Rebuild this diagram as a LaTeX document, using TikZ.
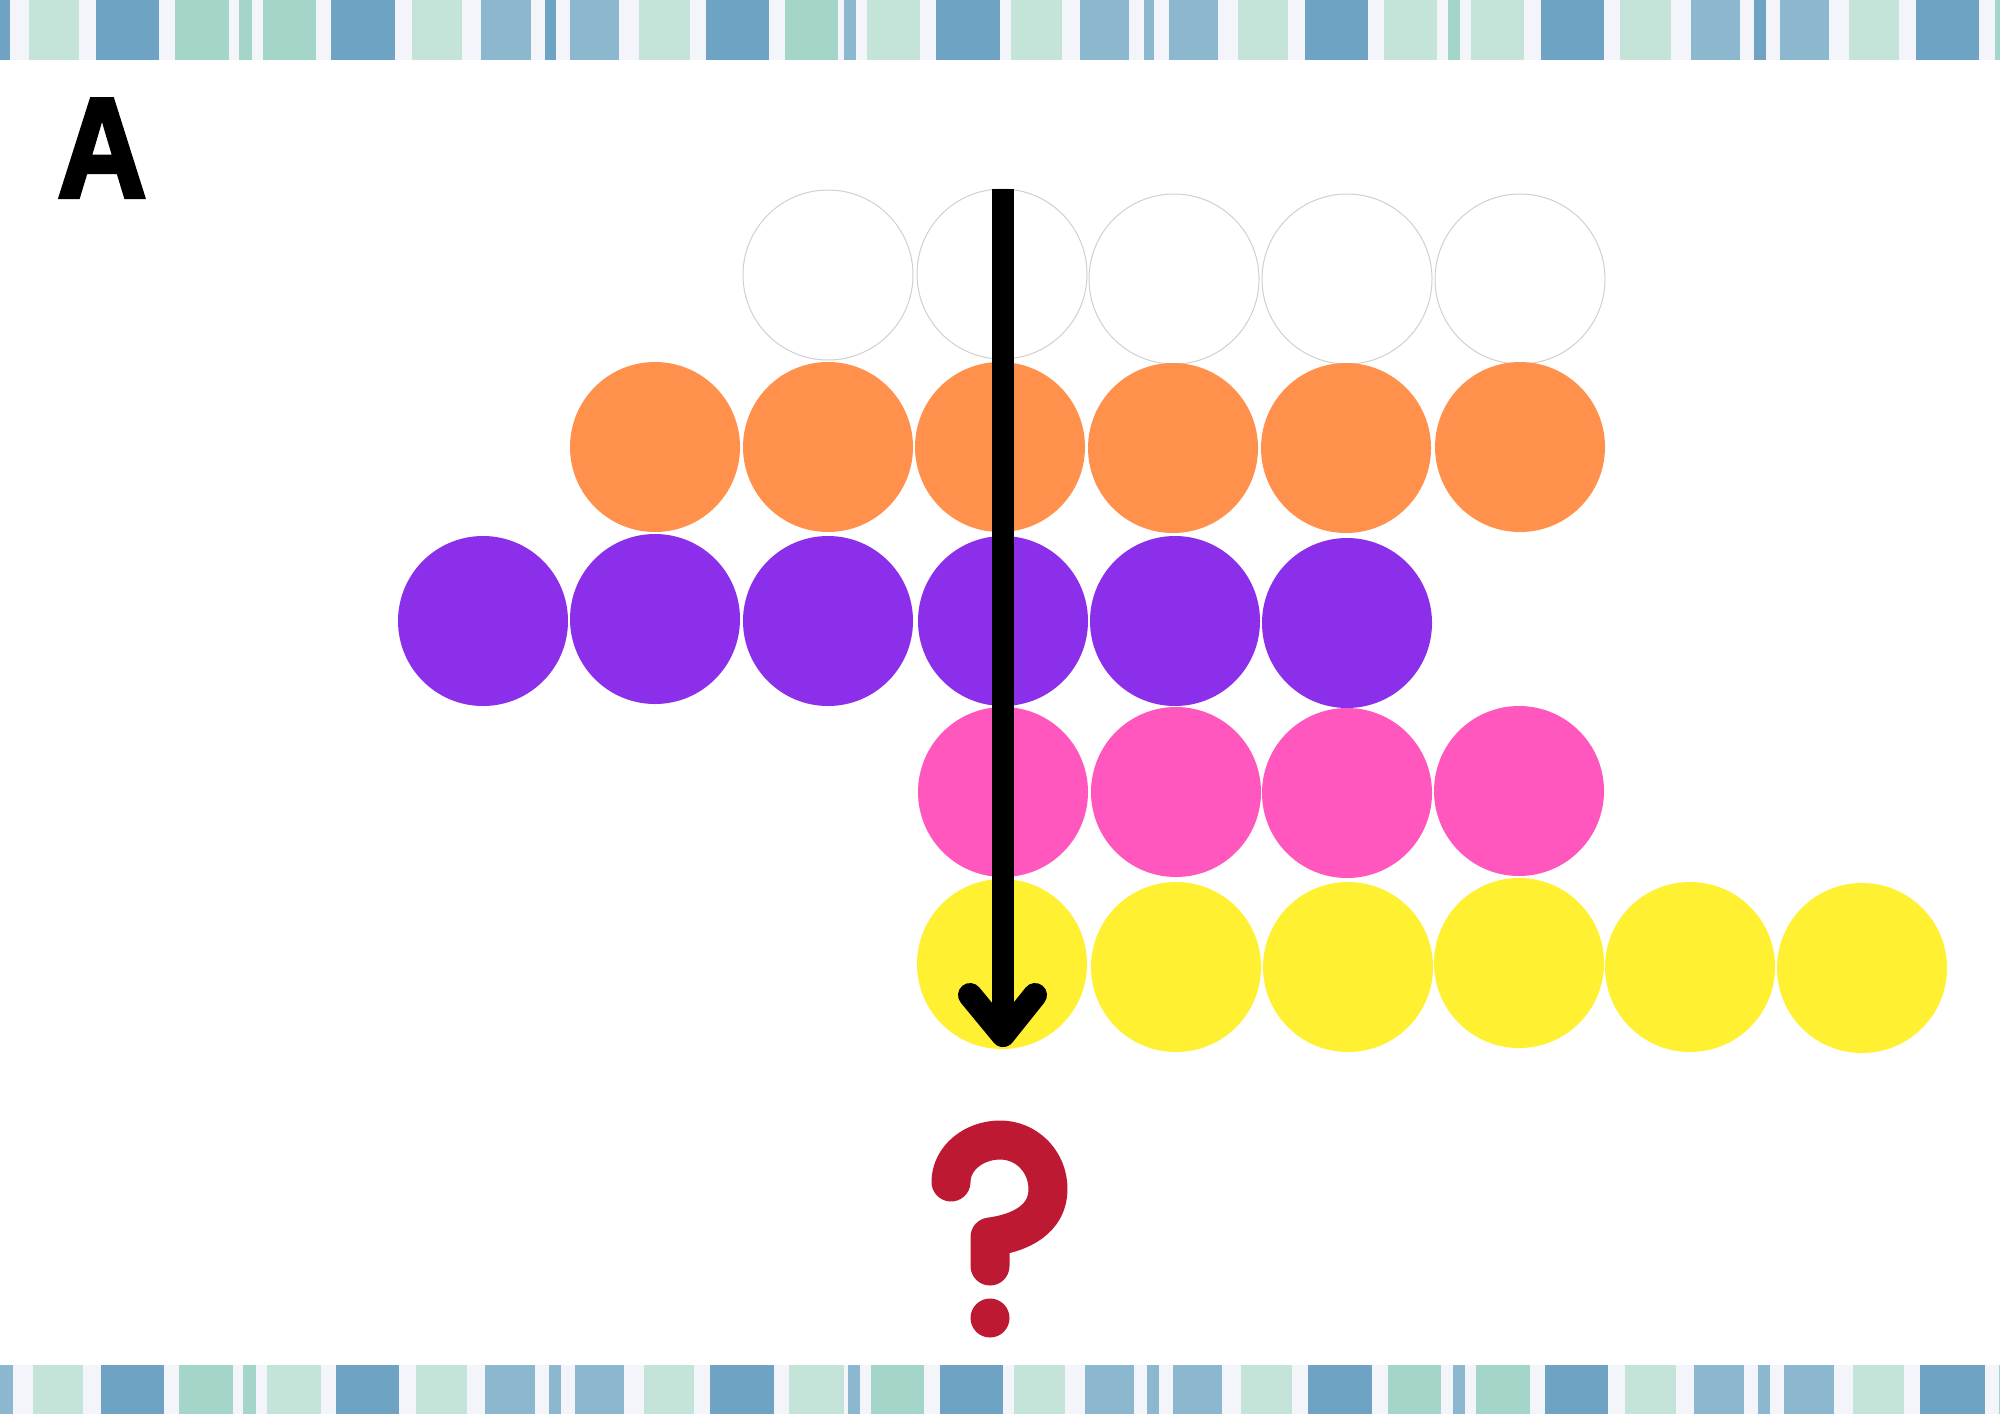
\documentclass[tikz,border=0pt]{standalone}
\usepackage{fontspec}
\usepackage{graphicx}
\font\labelfontbold="Liberation Sans/B:embolden=3" at 71pt
\definecolor{db}{RGB}{111,163,195}
\definecolor{bl}{RGB}{139,184,207}
\definecolor{lg}{RGB}{196,227,217}
\definecolor{gr}{RGB}{163,214,200}
\definecolor{bandbg}{RGB}{244,245,250}
\definecolor{corange}{RGB}{255,145,77}
\definecolor{cpurple}{RGB}{140,47,234}
\definecolor{cpink}{RGB}{255,87,189}
\definecolor{cyellow}{RGB}{255,240,49}
\definecolor{qred}{RGB}{190,25,50}
\definecolor{ringgrey}{RGB}{208,208,208}
\tikzset{
  ball/.style={circle, inner sep=0pt, minimum size=85pt, draw=none},
  emptyball/.style={ball, draw=ringgrey, line width=0.5pt, fill=white},
  shaft/.style={line width=11pt, line cap=butt},
  headline/.style={line width=12pt, line cap=round, line join=round},
  qstroke/.style={qred, line width=19.5pt, line cap=round, line join=round},
}
\begin{document}
\begin{tikzpicture}[x=0.5pt,y=-0.5pt]
\fill[white] (0,0) rectangle (2000,1414);
\useasboundingbox (0,0) rectangle (2000,1414);
% top band
\fill[bandbg] (0,0) rectangle (2000,60);
\foreach \a/\b/\c in {0/10/db,29/79/lg,96/159/db,175/229/gr,239/252/gr,263/316/gr,331/395/db,412/462/lg,481/531/bl,545/556/db,570/619/bl,639/690/lg,706/769/db,785/838/gr,844/856/bl,867/920/lg,936/1000/db,1011/1062/lg,1080/1129/bl,1144/1154/bl,1169/1218/bl,1238/1288/lg,1305/1368/db,1384/1437/lg,1448/1460/gr,1471/1524/lg,1541/1604/db,1620/1671/lg,1691/1740/bl,1754/1766/db,1780/1829/bl,1849/1899/lg,1916/1979/db,1995/2000/gr}
  \fill[\c] (\a,0) rectangle (\b,60);
% bottom band
\fill[bandbg] (0,1365) rectangle (2000,1414);
\foreach \a/\b/\c in {0/13/bl,33/83/lg,101/164/db,179/233/gr,243/256/gr,267/321/lg,336/399/db,416/467/lg,485/535/bl,549/561/bl,575/624/bl,644/694/lg,710/774/db,789/844/lg,848/860/bl,871/924/gr,940/1003/db,1014/1065/lg,1085/1134/bl,1147/1159/bl,1173/1222/bl,1241/1292/lg,1308/1372/db,1388/1441/gr,1453/1465/bl,1476/1530/gr,1545/1608/db,1625/1676/lg,1694/1744/bl,1758/1770/bl,1784/1834/bl,1853/1904/lg,1920/1985/db,1999/2000/gr}
  \fill[\c] (\a,1365) rectangle (\b,1414);
% label
\node[anchor=base west, inner sep=0pt] (lbl) at (57,197) {\scalebox{0.87}[1]{\labelfontbold A}};
% white row
\foreach \i/\x/\y in {1/828/275,2/1002/274,3/1174/279,4/1347/279,5/1520/279}
  \node[emptyball] (w\i) at (\x,\y) {};
% orange row
\foreach \i/\x/\y in {1/655/447,2/828/447,3/1000/447,4/1173/448,5/1346/448,6/1520/447}
  \node[ball, fill=corange] (o\i) at (\x,\y) {};
% purple row
\foreach \i/\x/\y in {1/483/621,2/655/619,3/828/621,4/1003/621,5/1175/621,6/1347/623}
  \node[ball, fill=cpurple] (p\i) at (\x,\y) {};
% pink row
\foreach \i/\x/\y in {1/1003/792,2/1176/792,3/1347/793,4/1519/791}
  \node[ball, fill=cpink] (k\i) at (\x,\y) {};
% yellow row
\foreach \i/\x/\y in {1/1002/964,2/1176/967,3/1348/967,4/1519/963,5/1690/967,6/1862/968}
  \node[ball, fill=cyellow] (y\i) at (\x,\y) {};
% arrow
\coordinate (atop) at (1003,189);
\coordinate (atip) at (1003,1035);
\coordinate (aleft) at (970,995);
\coordinate (aright) at (1035,995);
\draw[shaft] (atop) -- (atip);
\draw[headline] (aleft) -- (atip) -- (aright);
% question mark
\coordinate (qa) at (951,1182);
\coordinate (qb) at (1000,1140);
\coordinate (qc) at (1048,1189);
\coordinate (qd) at (990,1237);
\coordinate (qe) at (990,1266);
\draw[qstroke] (qa) .. controls (951,1158) and (974,1140) .. (qb)
  .. controls (1027,1140) and (1048,1162) .. (qc)
  .. controls (1048,1219) and (1021,1233) .. (qd) -- (qe);
\node[circle, inner sep=0pt, minimum size=19.5pt, fill=qred] (qdot) at (990,1318) {};
\end{tikzpicture}
\end{document}
